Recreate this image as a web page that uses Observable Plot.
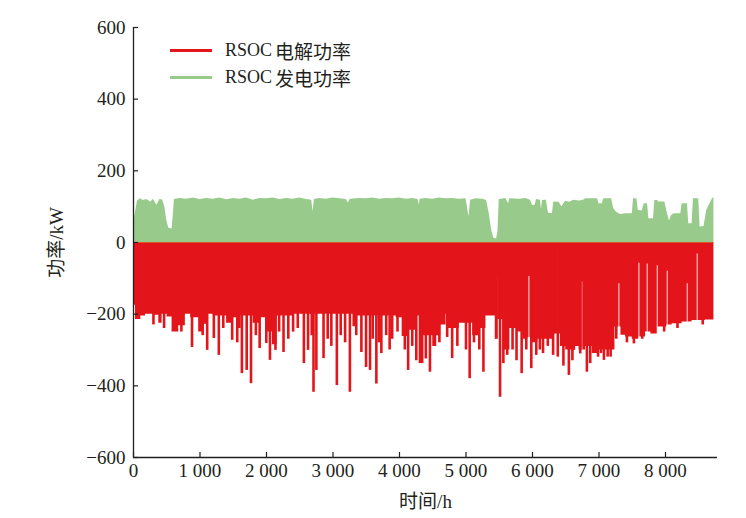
<!DOCTYPE html>
<html><head><meta charset="utf-8">
<script src="https://cdn.jsdelivr.net/npm/d3@7"></script>
<script src="https://cdn.jsdelivr.net/npm/@observablehq/plot@0.6"></script>
<style>
body{margin:0;background:#fff;}
#wrap{position:relative;width:746px;height:518px;}
#legend{position:absolute;left:170px;top:37px;font-family:"Liberation Serif","Noto Sans CJK SC",serif;color:#231f20;}
.item{display:flex;align-items:center;height:27px;white-space:nowrap;}
.sw{width:42px;margin-right:13px;}
.lat{font-size:18px;}
.cjk{font-size:19px;font-family:"Noto Sans CJK SC";margin-left:3px;}
</style></head>
<body><div id="wrap"><div id="legend"></div></div>
<script>
// ---- data ----
const seriesNames = ["RSOC电解功率", "RSOC发电功率"];
const xTicks = [0,1000,2000,3000,4000,5000,6000,7000,8000];
const yTicks = [-600,-400,-200,0,200,400,600];

// generation power: upper envelope (kW)
const greenHours = [0,20,60,100,150,200,260,300,350,400,440,470,500,530,580,600,615,700,800,900,1000,1100,1200,1300,1400,1500,1600,1700,1800,1900,2000,2100,2200,2300,2400,2500,2600,2680,2700,2720,2800,2900,3000,3100,3200,3230,3260,3400,3500,3600,3700,3800,3900,4000,4100,4200,4280,4295,4310,4400,4500,4600,4700,4800,4900,5000,5020,5045,5070,5150,5250,5310,5350,5390,5420,5460,5480,5500,5600,5640,5660,5800,5900,5970,6000,6040,6060,6120,6135,6150,6210,6240,6300,6320,6400,6440,6500,6560,6620,6700,6760,6800,6980,7000,7050,7070,7190,7220,7260,7320,7400,7500,7520,7570,7590,7650,7680,7730,7750,7820,7840,7880,7900,7990,8030,8060,8090,8130,8230,8250,8330,8350,8400,8420,8500,8520,8580,8620,8700,8728];
const greenPower = [45,75,115,122,117,120,112,121,104,121,118,100,62,40,38,80,120,123,121,124,120,123,121,124,119,123,121,124,118,123,122,124,120,123,121,124,120,118,85,120,123,121,124,122,120,110,121,123,122,124,121,123,122,124,121,123,120,105,121,123,121,124,122,123,121,122,100,72,118,122,121,117,80,30,12,10,30,120,123,108,122,121,123,118,103,104,120,118,92,117,118,82,80,113,112,100,115,112,118,116,117,122,122,108,108,122,122,95,85,78,80,80,122,122,90,88,108,108,66,66,117,117,113,113,80,60,75,80,80,108,108,52,52,122,122,43,45,90,120,126];

// electrolysis power: lower floor between spikes (kW)
const redHours = [0,30,110,180,310,380,430,505,580,680,780,860,980,1060,1110,1200,1400,1480,1550,1620,1800,1900,2000,2090,2160,2400,3300,3370,3950,4040,4150,4250,4330,4500,4560,4620,4700,4730,4830,4900,5100,5200,5300,5430,5440,5480,5560,5660,5760,5860,5930,6000,6080,6200,6330,6420,6500,6600,6700,6760,6900,7000,7120,7240,7330,7400,7500,7600,7700,7780,7880,8020,8100,8250,8400,8600,8728];
const redPower = [-175,-215,-205,-200,-203,-225,-200,-208,-250,-232,-200,-210,-250,-228,-200,-205,-225,-210,-240,-205,-225,-210,-250,-285,-205,-200,-235,-205,-210,-262,-245,-205,-260,-290,-260,-230,-200,-240,-240,-225,-260,-240,-205,-205,-270,-215,-300,-240,-250,-270,-265,-280,-270,-270,-255,-290,-300,-290,-300,-290,-310,-300,-300,-236,-259,-264,-270,-264,-250,-255,-236,-230,-227,-222,-218,-216,-216];

// electrolysis power: single-hour spikes below the floor (kW)
const spikeHours = [300,460,720,880,1040,1108,1208,1283,1350,1484,1560,1630,1702,1767,1840,1897,1997,2052,2135,2190,2256,2328,2400,2470,2562,2625,2680,2707,2750,2858,2920,2975,3058,3116,3182,3254,3350,3427,3497,3557,3597,3652,3690,3727,3800,3852,3890,3970,4080,4130,4192,4253,4308,4341,4396,4458,4600,4717,4792,4870,5000,5055,5120,5200,5262,5457,5512,5562,5620,5700,5760,5837,5907,5982,6057,6110,6158,6230,6310,6380,6465,6547,6600,6622,6718,6770,6818,6868,6930,6986,7030,7074,7130,7175,7260,7420,7525,7650,7980,8180,8560];
const spikePower = [-230,-240,-250,-293,-260,-301,-268,-315,-240,-273,-280,-366,-357,-394,-260,-296,-282,-329,-301,-250,-307,-270,-250,-240,-338,-301,-260,-418,-357,-324,-270,-290,-399,-260,-280,-418,-260,-307,-349,-357,-270,-395,-280,-310,-260,-300,-270,-250,-300,-357,-290,-330,-338,-338,-325,-362,-280,-265,-324,-290,-300,-380,-280,-300,-362,-270,-432,-338,-315,-300,-330,-366,-300,-352,-315,-300,-310,-290,-315,-320,-345,-371,-330,-301,-311,-300,-362,-338,-300,-320,-310,-329,-320,-320,-270,-280,-283,-270,-250,-240,-230];

// electrolysis power: short idle hours showing as light gaps (kW)
const gapHours = [2702,5460,5946,6748,7299,7600,7725,7876,8026,8327,8477];
const gapPower = [-64,-97,-95,-110,-115,-58,-60,-65,-80,-115,-32];

// ---- build tables ----
const RED = "#e3151b", GREEN = "#98cb8b", INK = "#231f20";
const green = greenHours.map((h,i)=>({h, v:greenPower[i]}));
const red = redHours.map((h,i)=>({h, v:redPower[i]}));
const spikes = spikeHours.map((h,i)=>({h, v:spikePower[i]}));
const gaps = gapHours.map((h,i)=>({h, v:gapPower[i]}));
const lastHour = d3.max(greenHours);
const fmtX = d => d === 0 ? "0" : d3.format(",")(d).replace(",", " ");
const FONT = '"Liberation Serif","Noto Sans CJK SC",serif';

const chart = Plot.plot({
  width: 746, height: 518,
  marginLeft: 133, marginRight: 29, marginTop: 27, marginBottom: 61,
  x: {domain: [0, 8782]},
  y: {domain: [-600, 600]},
  style: {fontFamily: FONT, fontSize: "19px", color: INK, background: "#fff"},
  marks: [
    Plot.areaY(green, {x: "h", y: "v", fill: GREEN, curve: "linear"}),
    Plot.areaY(red, {x: "h", y: "v", fill: RED, curve: "step-after"}),
    Plot.ruleX(gaps, {x: "h", y1: "v", y2: -450, stroke: "#fff", strokeOpacity: 0.8, strokeWidth: 1.1}),
    Plot.ruleX(spikes, {x: "h", y1: 0, y2: "v", stroke: RED, strokeWidth: 2.6}),
    Plot.ruleY([0], {x1: 0, x2: lastHour, stroke: "#d36b2a", strokeWidth: 0.8}),
    Plot.ruleX([0], {stroke: INK, strokeWidth: 1.3}),
    Plot.ruleY([-600], {stroke: INK, strokeWidth: 1.3}),
    // inward tick marks
    Plot.ruleY(yTicks, {x1: 0, x2: 75, stroke: INK, strokeWidth: 1.2}),
    Plot.ruleX(xTicks, {y1: -600, y2: -586, stroke: INK, strokeWidth: 1.2}),
    Plot.axisY({ticks: yTicks, tickSize: 0, tickPadding: 8, fontSize: 19, fill: INK,
      label: "功率/kW", labelAnchor: "center", labelOffset: 84, labelArrow: "none"}),
    Plot.axisX({ticks: xTicks, tickSize: 0, tickPadding: 6, fontSize: 19, fill: INK, tickFormat: fmtX,
      label: "时间/h", labelAnchor: "center", labelOffset: 50, labelArrow: "none"})
  ]
});
document.getElementById("wrap").prepend(chart);

// legend
const legend = document.getElementById("legend");
[[seriesNames[0], RED, 3.2], [seriesNames[1], GREEN, 2.6]].forEach(([name, color, w]) => {
  const item = document.createElement("div");
  item.className = "item";
  const m = name.match(/^([A-Za-z]+)(.*)$/);
  item.innerHTML = `<div class="sw" style="height:${w}px;background:${color}"></div><span class="lat">${m[1]}</span><span class="cjk">${m[2]}</span>`;
  legend.appendChild(item);
});
</script>
</body></html>
